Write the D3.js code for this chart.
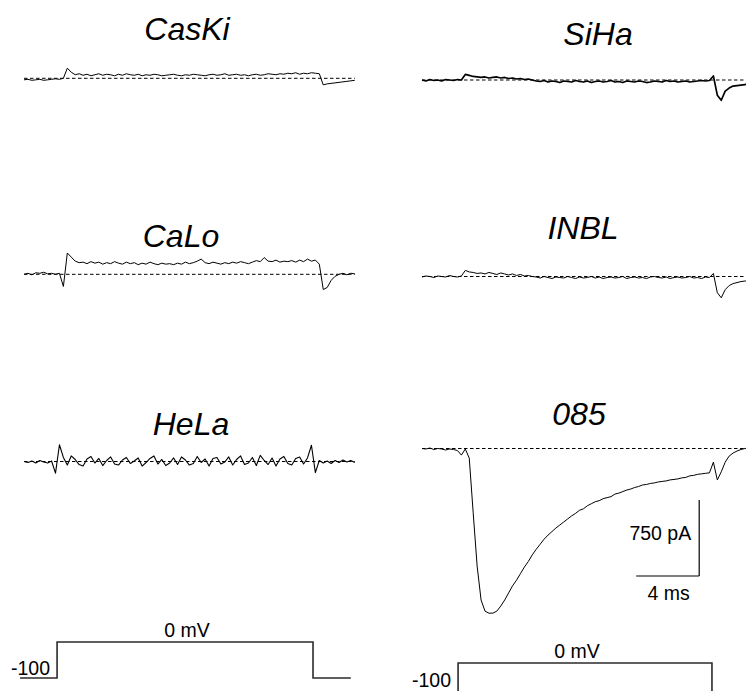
<!DOCTYPE html>
<html>
<head>
<meta charset="utf-8">
<script src="https://cdn.jsdelivr.net/npm/d3@7"></script>
<style>
  body { margin: 0; background: #fff; }
  svg { display: block; font-family: "Liberation Sans", Arial, sans-serif; }
</style>
</head>
<body>
<div id="chart"></div>
<script>
// sampling grid of the current traces (ms)
const timeMs = d3.range(0, 21 + 1e-9, 0.25);

// currents in pA, one value per sample
const caskiPa = [
  -15, -10, -20, -15, -10, -20, -15, -10, -5, -10, 0,
  100, 60,
  35, 45, 30, 40, 25, 35, 45, 30, 40, 35,
  25, 40, 30, 45, 35, 30, 40, 25, 35, 30,
  40, 35, 25, 30, 35, 40, 30, 25, 35, 30,
  40, 35, 30, 25, 35, 40, 30, 35, 45, 30,
  35, 40, 30, 35, 25, 35, 40, 30, 35, 45,
  40, 35, 45, 40, 50, 45, 55, 40, 50, 45,
  55, 50, 45,
  -65,
  -55, -50, -45, -40, -35, -30, -25, -20
];

const sihaPa = [
  0, -10, 5, -5, 0, -10, 5, 0, -5, 5, 0,
  55, 45,
  35, 30, 25, 30, 20, 25, 30, 20, 25, 15, 20, 10, 15, 5, 10, 0,
  -10, -15, -5, -20, -10, -15, -25, -10, -15, -20,
  -5, -15, -20, -10, -25, -15, -10, -20, -15, -5,
  -20, -15, -25, -10, -15, -20, -10, -15, -25, -20,
  -10, -15, -20, -5, -15, -10, -20, -15, -10, -20,
  -15, -10, -5, -10, -5,
  40,
  -150, -200, -110, -80, -60, -55, -50, -45, -40, -40
];

const caloPa = [
  0, 10, -5, 15, 10, 20, 5, 10, 0, 10,
  -120, 210, 170,
  130, 115, 120, 105, 125, 110, 120, 100,
  115, 105, 125, 110, 100, 120, 105, 115,
  95, 110, 100, 120, 105, 95, 110, 100,
  105, 95, 110, 100, 120, 105, 115, 130,
  150, 115, 105, 120, 110, 100, 115, 105,
  120, 110, 125, 115, 105, 120, 135, 125,
  165, 130, 125, 140, 120, 130, 125, 135,
  120, 140, 125, 150, 130, 140,
  100,
  -150, -130, -60, -20, 0, 10, -5, 10, 5
];

const inblPa = [
  -5, 5, 0, -10, 5, 0, -5, 10, 0, -5, 5,
  60, 45,
  40, 30, 35, 25, 40, 30, 20, 35, 25, 15, 25, 10, 20, 5, 10, 0,
  -5, -15, 0, -10, -20, -5, -10, -15, 0, -10,
  -20, -5, -15, -10, 0, -15, -5, -20, -10, -5,
  -15, -10, 0, -20, -10, -5, -15, -10, -20, -5,
  0, -10, -15, -5, -20, -10, -5, -15, -10, 0,
  -15, -10, -20, -5, -10,
  30,
  -160, -210, -130, -90, -70, -60, -50, -45, -40, -40
];

const helaPa = [
  0, -10, 5, -15, 10, -5, -15, 5,
  -115, 165,
  40, -35, 55, 20, -30, -45, 25, 50, -15, 30,
  -40, 10, 45, -25, -35, 15, 40, -20, 5, 35,
  -45, -10, 30, 55, -25, 20, -40, -15, 35, -30,
  45, 15, -35, -20, 50, -10, 25, -45, 30, 40,
  -25, -5, 45, -35, 20, 55, -30, -15, 40, -40,
  60, 10, -30, 35, -45, 25, 50, -20, -35, 30,
  45, -25, 35,
  160, -110,
  10, -15, 5, -20, 10, -10, 15, -5, 10, -10
];

const line085Pa = [
  0, -5, 5, -10, 0, -5, -15, -5, -10, -20,
  -65, -5, -95, -635, -1160, -1495, -1605, -1625, -1625, -1605,
  -1555, -1495, -1425, -1355, -1300, -1235, -1170, -1115, -1050, -995,
  -945, -895, -855, -820, -785, -755, -725, -695, -665, -640,
  -610, -595, -565, -545, -525, -515, -495, -485, -475, -450,
  -440, -425, -410, -400, -385, -375, -360, -355, -345, -340,
  -330, -325, -320, -310, -305, -300, -290, -285, -270, -265,
  -255, -250, -245, -240, -135, -310, -230, -135, -75, -45,
  -25, -10, 0, 5, 0
];

// voltage protocol
const protocolMv = [-100, -100, 0, 0, -100, -100];
const protocolLeftMs = [-0.25, 2.1, 2.1, 18.35, 18.35, 20.75];
const protocolRightMs = [-0.25, 2.29, 2.29, 18.41, 18.41, 20.75];

// scale bar
const scaleBarPa = 750;
const scaleBarMs = 4;

function render(node, width, height) {
  d3.select(node).selectAll("svg").remove();

  const svg = (d3.select(node).append("svg")
               .attr("viewBox", [0, 0, width, height])
               .attr("width", width)
               .attr("height", height));

  const pxPerMs = 15.75;
  const pxPerPa = 76 / 750;
  const pxPerMv = 36 / 100;

  const xLeft = d3.scaleLinear().domain([0, 21]).range([24, 24 + 21 * pxPerMs]);
  const xRight = d3.scaleLinear().domain([0, 21]).range([422, 422 + 21 * pxPerMs]);

  const panels = [
    {name: "CasKi", values: caskiPa, x: xLeft, base: 78.3, tx: 187, ty: 40, sw: 1},
    {name: "SiHa", values: sihaPa, x: xRight, base: 80, tx: 598, ty: 45, sw: 1.7},
    {name: "CaLo", values: caloPa, x: xLeft, base: 274.3, tx: 181, ty: 247, sw: 1},
    {name: "INBL", values: inblPa, x: xRight, base: 276.5, tx: 583, ty: 239, sw: 1},
    {name: "HeLa", values: helaPa, x: xLeft, base: 461.5, tx: 191, ty: 435, sw: 1.1},
    {name: "085", values: line085Pa, x: xRight, base: 448.5, tx: 579, ty: 425, sw: 1}
  ];

  const yFor = (base) => (d3.scaleLinear()
                          .domain([0, scaleBarPa])
                          .range([base, base - scaleBarPa * pxPerPa]));

  panels.forEach((p) => {
    const y = yFor(p.base);
    const g = svg.append("g");

    g.append("text")
      .attr("x", p.tx)
      .attr("y", p.ty)
      .attr("text-anchor", "middle")
      .attr("font-size", 32)
      .attr("font-style", "italic")
      .attr("fill", "#000")
      .text(p.name);

    g.append("line")
      .attr("x1", p.x(0))
      .attr("x2", p.x(21))
      .attr("y1", y(0))
      .attr("y2", y(0))
      .attr("stroke", "#000")
      .attr("stroke-width", 1)
      .attr("stroke-dasharray", "3.5,2.5");

    const line = (d3.line()
                  .x((d, i) => p.x(timeMs[i]))
                  .y((d) => y(d)));

    g.append("path")
      .datum(p.values)
      .attr("fill", "none")
      .attr("stroke", "#000")
      .attr("stroke-width", p.sw)
      .attr("stroke-linejoin", "round")
      .attr("d", line);
  });

  // scale bar, placed in the 085 panel
  const y085 = yFor(448.5);
  const barT = 17.6;
  const barPa = -1258;
  const bar = svg.append("g").attr("stroke", "#000").attr("stroke-width", 1.2);
  bar.append("line")
    .attr("x1", xRight(barT)).attr("x2", xRight(barT))
    .attr("y1", y085(barPa)).attr("y2", y085(barPa + scaleBarPa));
  bar.append("line")
    .attr("x1", xRight(barT - scaleBarMs)).attr("x2", xRight(barT))
    .attr("y1", y085(barPa)).attr("y2", y085(barPa));

  svg.append("text")
    .attr("x", xRight(barT) - 8)
    .attr("y", 540)
    .attr("text-anchor", "end")
    .attr("font-size", 19.5)
    .text(scaleBarPa + " pA");

  svg.append("text")
    .attr("x", xRight(barT - scaleBarMs / 2) + 1)
    .attr("y", 600)
    .attr("text-anchor", "middle")
    .attr("font-size", 19.5)
    .text(scaleBarMs + " ms");

  // voltage protocols
  const protocols = [
    {times: protocolLeftMs, x: xLeft, base: 678, labelX: 187, minusX: 50, minusY: 675},
    {times: protocolRightMs, x: xRight, base: 699, labelX: 577, minusX: 451, minusY: 687}
  ];

  protocols.forEach((pr) => {
    const vy = (d3.scaleLinear()
                .domain([-100, 0])
                .range([pr.base, pr.base - 100 * pxPerMv]));

    const vline = (d3.line()
                   .x((d, i) => pr.x(pr.times[i]))
                   .y((d) => vy(d)));

    svg.append("path")
      .datum(protocolMv)
      .attr("fill", "none")
      .attr("stroke", "#2b2b2b")
      .attr("stroke-width", 1.6)
      .attr("d", vline);

    svg.append("text")
      .attr("x", pr.labelX)
      .attr("y", vy(0) - 5)
      .attr("text-anchor", "middle")
      .attr("font-size", 19.5)
      .text("0 mV");

    svg.append("text")
      .attr("x", pr.minusX)
      .attr("y", pr.minusY)
      .attr("text-anchor", "end")
      .attr("font-size", 19.5)
      .text("-100");
  });

  return svg.node();
}

render(document.getElementById("chart"), 746, 691);
</script>
</body>
</html>
